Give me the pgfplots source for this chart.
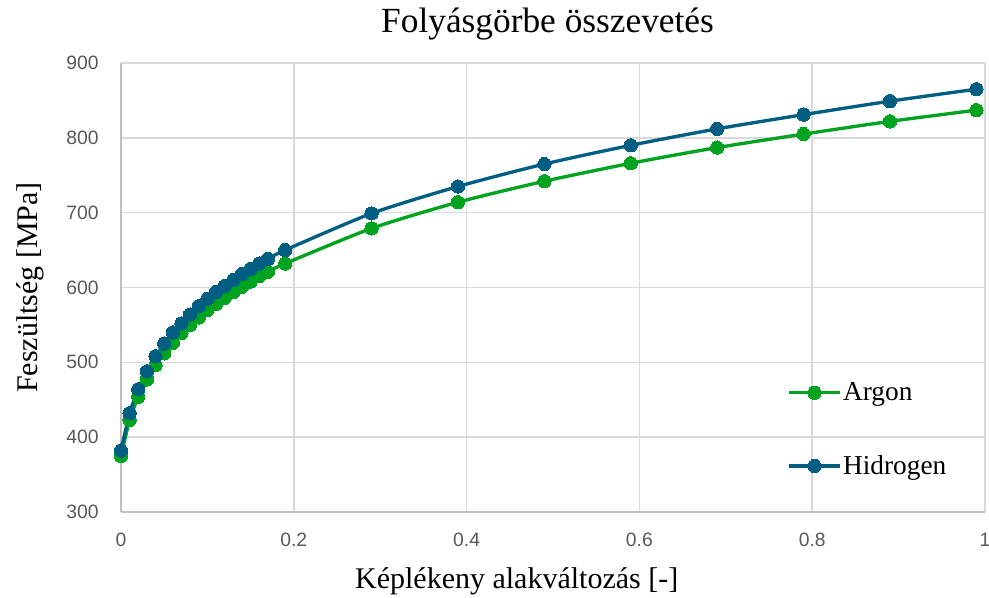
\documentclass[border=0pt]{standalone}
\usepackage{fontspec}
\setmainfont{Liberation Serif}
\newfontfamily\ticksf{Liberation Sans}
\usepackage{pgfplots}
\pgfplotsset{compat=1.18}
\definecolor{argon}{RGB}{0,163,32}
\definecolor{hidro}{RGB}{0,94,130}
\definecolor{tickgray}{RGB}{89,89,89}
\definecolor{gridgray}{RGB}{217,217,217}
\definecolor{axisgray}{RGB}{191,191,191}
\begin{document}
\begin{tikzpicture}
\begin{axis}[
    name=ax,
    scale only axis,
    width=648pt, height=336.75pt,
    xmin=0, xmax=1, ymin=300, ymax=900,
    xtick={0,0.2,0.4,0.6,0.8,1},
    ytick={300,400,...,900},
    xticklabels={0,0.2,0.4,0.6,0.8,1},
    axis lines=left,
    axis line style={draw=axisgray, line width=1.1pt, -},
    major tick length=0pt,
    grid=major,
    grid style={draw=gridgray, line width=1.1pt},
    tick label style={font=\ticksf\fontsize{14.5pt}{16pt}\selectfont, color=tickgray, inner sep=0pt},
    /pgf/number format/assume math mode=true,
    xticklabel style={anchor=center, yshift=-21pt},
    yticklabel style={anchor=east, xshift=-16.5pt},
    title={Folyásgörbe összevetés},
    title style={font=\fontsize{26.5pt}{30pt}\selectfont, at={(axis description cs:0.4937,1.0512)}, anchor=base, inner sep=0pt},
    xlabel={Képlékeny alakváltozás [-]},
    ylabel={Feszültség [MPa]},
    label style={font=\fontsize{22.5pt}{26pt}\selectfont, inner sep=0pt},
    xlabel style={at={(axis description cs:0.458,-0.1693)}, anchor=base},
    ylabel style={at={(axis description cs:-0.0969,0.5)}, anchor=base},
    legend style={draw=none, fill=none, at={(0.771,0.1837)}, anchor=west, inner sep=0pt,
        font=\fontsize{20.5pt}{24pt}\selectfont, row sep=37.5pt,
        nodes={inner sep=1pt},
        /tikz/every even column/.style={column sep=2pt}},
    legend cell align=left,
    legend image code/.code={
        \draw[#1, mark repeat=2, mark phase=2] plot coordinates {(0pt,0pt) (19.1pt,0pt) (38.25pt,0pt)};
    },
    every axis plot/.append style={line width=2.5pt, mark=*, mark size=5pt, smooth, tension=0.4},
]
\addplot[color=argon, mark options={fill=argon, draw=argon, line width=0pt}] coordinates {
(0,375) (0.01,423) (0.02,454) (0.03,477) (0.04,496) (0.05,512) (0.06,526)
(0.07,539) (0.08,550) (0.09,560) (0.10,570) (0.11,578) (0.12,586) (0.13,594)
(0.14,601) (0.15,608) (0.16,615) (0.17,621) (0.19,632) (0.29,679) (0.39,714)
(0.49,742) (0.59,766) (0.69,787) (0.79,805) (0.89,822) (0.99,837)
};
\addlegendentry{Argon}
\addplot[color=hidro, mark options={fill=hidro, draw=hidro, line width=0pt}] coordinates {
(0,382) (0.01,432) (0.02,464) (0.03,488) (0.04,508) (0.05,525) (0.06,540)
(0.07,552) (0.08,564) (0.09,575) (0.10,585) (0.11,594) (0.12,602) (0.13,610)
(0.14,618) (0.15,625) (0.16,632) (0.17,638) (0.19,650) (0.29,699) (0.39,735)
(0.49,765) (0.59,790) (0.69,812) (0.79,831) (0.89,849) (0.99,865)
};
\addlegendentry{Hidrogen}
\end{axis}
\pgfresetboundingbox
\path ([xshift=-90.75pt,yshift=-63.75pt]ax.south west) rectangle ([xshift=3pt,yshift=47.25pt]ax.north east);
\end{tikzpicture}
\end{document}
